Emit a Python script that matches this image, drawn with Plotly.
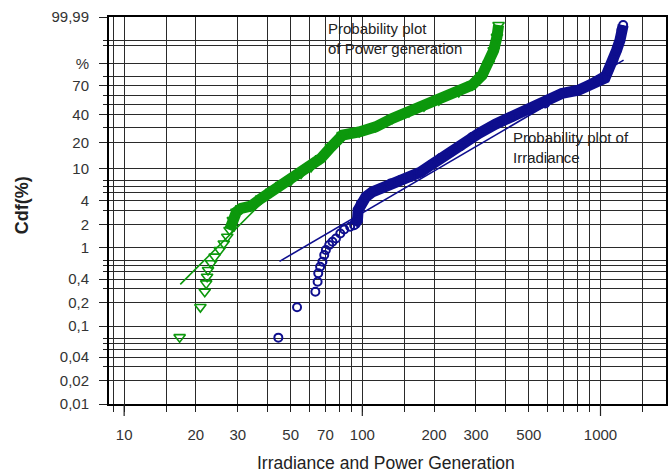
import numpy as np
import plotly.graph_objects as go

# ---------------- data ----------------
power_x = [17.1, 20.9, 21.8, 22.1, 22.3, 22.5, 23.2, 24.0, 25.2, 26.2,
           27.1, 27.7, 28.6, 29.6, 31.0, 34.0, 37.6, 41.4, 45.6, 50.2,
           55.3, 60.9, 67.0, 73.8, 82.6, 97.0, 113.8, 133.6, 157.0, 181.5,
           209.6, 254.1, 288.9, 318.3, 339.6, 356.0, 367.5, 373.3]
power_cdf = [0.072, 0.175, 0.275, 0.352, 0.428, 0.522, 0.637, 0.773, 0.942, 1.14,
             1.39, 1.69, 2.26, 2.87, 3.18, 3.39, 4.24, 5.13, 6.23, 7.18,
             8.68, 10.4, 13.2, 17.9, 24.5, 26.6, 30.2, 36.9, 42.8, 48.4,
             54.6, 63.5, 70.8, 80.8, 90.3, 96.8, 99.40, 99.93]

irr_x = [44.4, 53.2, 63.5, 64.9, 65.3, 66.5, 68.0, 69.2, 70.3, 72.6,
         74.9, 77.5, 80.8, 83.9, 88.9, 92.4, 95.4, 96.0, 98.6, 103.5,
         110.3, 119.5, 131.5, 144.8, 159.5, 175.6, 193.5, 213.0, 234.6, 258.3,
         289.0, 308.3, 362.0, 425.0, 499.0, 586.0, 688.0, 807.0, 979.0, 1044.0,
         1079.0, 1132.0, 1168.0, 1207.0, 1225.0, 1245.0]
irr_cdf = [0.071, 0.174, 0.275, 0.370, 0.474, 0.575, 0.667, 0.813, 0.942, 1.09,
           1.20, 1.32, 1.53, 1.72, 1.86, 1.95, 2.26, 3.02, 3.67, 4.45,
           5.13, 5.66, 6.53, 7.18, 7.87, 8.99, 10.9, 13.3, 15.6, 18.4,
           23.3, 25.6, 32.2, 38.2, 44.4, 51.1, 61.8, 65.4, 76.0, 78.0,
           85.3, 92.3, 96.8, 99.03, 99.81, 99.93]

# Weibull fit lines (shape, scale, x-range)
power_fit = dict(shape=3.06, scale=110.0, xr=[17.2, 45.0])
irr_fit = dict(shape=1.787, scale=736.0, xr=[44.9, 1250.0])

# axis ticks
y_major_pct = [0.01, 0.02, 0.04, 0.1, 0.2, 0.4, 1, 2, 4, 10, 20, 40, 70, 90, 99.99]
y_major_text = ["0,01", "0,02", "0,04", "0,1", "0,2", "0,4", "1", "2", "4",
                "10", "20", "40", "70", "%", "99,99"]
y_minor_pct = [0.03, 0.05, 0.06, 0.07, 0.3, 0.5, 0.6, 0.7, 3, 5, 6, 7,
               30, 50, 60, 80, 98, 99]
x_major = [10, 20, 30, 50, 70, 100, 200, 300, 500, 1000]
x_minor = [9, 15, 40, 60, 80, 90, 150, 400, 600, 700, 800, 900, 1500]
x_long = [10, 100, 1000]

GREEN = "#0c980c"
BLUE = "#0e0e8e"
GRID = "#2a2a2a"
TXT = "#333333"
FONT = "Liberation Sans, Arial, sans-serif"


def wb(pct):
    p = np.asarray(pct, dtype=float) / 100.0
    return np.log10(-np.log(1.0 - p))


def fit_line(f):
    xs = np.array(f["xr"], dtype=float)
    ys = f["shape"] * (np.log10(xs) - np.log10(f["scale"]))
    return xs, ys


X_RANGE = [0.9364, 3.275]
Y_RANGE = [float(wb(0.01)), float(wb(99.99))]

fig = go.Figure()

# fit lines
for f, col in [(power_fit, GREEN), (irr_fit, BLUE)]:
    fx, fy = fit_line(f)
    fig.add_trace(go.Scatter(x=fx, y=fy, mode="lines",
                             line=dict(color=col, width=1.6),
                             hoverinfo="skip", showlegend=False))

# dense bands (heavily overlapping markers)
for xs, cs, start, col in [(power_x, power_cdf, 11, GREEN), (irr_x, irr_cdf, 15, BLUE)]:
    fig.add_trace(go.Scatter(x=xs[start:], y=wb(cs[start:]), mode="lines",
                             line=dict(color=col, width=11, shape="linear"),
                             hoverinfo="skip", showlegend=False))

fig.add_trace(go.Scatter(x=power_x, y=wb(power_cdf), mode="markers",
                         marker=dict(symbol="triangle-down-open", size=10,
                                     color=GREEN, line=dict(width=1.6, color=GREEN)),
                         name="Power generation", showlegend=False))
fig.add_trace(go.Scatter(x=irr_x, y=wb(irr_cdf), mode="markers",
                         marker=dict(symbol="circle-open", size=8,
                                     color=BLUE, line=dict(width=2, color=BLUE)),
                         name="Irradiance", showlegend=False))

# long tick marks at decades
shapes = []
for v in x_long:
    px = (np.log10(v) - X_RANGE[0]) / (X_RANGE[1] - X_RANGE[0])
    shapes.append(dict(type="line", xref="paper", yref="paper", x0=px, x1=px,
                       y0=0, y1=-12 / 387, line=dict(color="#222", width=1.2)))

fig.update_layout(
    width=671, height=475,
    margin=dict(l=109, r=3, t=17, b=71),
    paper_bgcolor="white", plot_bgcolor="white",
    showlegend=False,
    shapes=shapes,
    xaxis=dict(type="log", range=X_RANGE,
               tickmode="array", tickvals=x_major, ticktext=[str(v) for v in x_major],
               ticks="outside", ticklen=6, tickcolor="#222", tickwidth=1,
               showgrid=True, gridcolor=GRID, gridwidth=1,
               minor=dict(tickmode="array", tickvals=x_minor, ticks="outside",
                          ticklen=6, tickcolor="#222", showgrid=True,
                          gridcolor=GRID, gridwidth=1),
               showline=True, linecolor="black", linewidth=2, mirror=True,
               tickfont=dict(family=FONT, size=15, color=TXT),
               ticklabelstandoff=10, zeroline=False),
    yaxis=dict(range=Y_RANGE,
               tickmode="array", tickvals=list(wb(y_major_pct)), ticktext=y_major_text,
               ticks="outside", ticklen=8, tickcolor="#222", tickwidth=1,
               showgrid=True, gridcolor=GRID, gridwidth=1,
               minor=dict(tickmode="array", tickvals=list(wb(y_minor_pct)),
                          ticks="outside", ticklen=4, tickcolor="#222",
                          showgrid=True, gridcolor=GRID, gridwidth=1),
               showline=True, linecolor="black", linewidth=2, mirror=True,
               tickfont=dict(family=FONT, size=15, color=TXT),
               ticklabelstandoff=7, zeroline=False),
    annotations=[
        dict(text="Probability plot<br>of Power generation", xref="paper", yref="paper",
             x=(327 - 109) / 559, y=(404 - 18) / 387, xanchor="left", yanchor="top",
             align="left", showarrow=False,
             font=dict(family=FONT, size=15, color="#222")),
        dict(text="Probability plot of<br>Irradiance", xref="paper", yref="paper",
             x=(512 - 109) / 559, y=(404 - 127) / 387, xanchor="left", yanchor="top",
             align="left", showarrow=False,
             font=dict(family=FONT, size=15, color="#222")),
        dict(text="<b>Cdf(%)</b>", xref="paper", yref="paper",
             x=(22 - 109) / 559, y=(404 - 205) / 387, xanchor="center", yanchor="middle",
             textangle=-90, showarrow=False,
             font=dict(family=FONT, size=18, color="#222")),
        dict(text="Irradiance and Power Generation", xref="paper", yref="paper",
             x=(387 - 109) / 559, y=(404 - 463) / 387, xanchor="center", yanchor="middle",
             showarrow=False,
             font=dict(family=FONT, size=17.5, color="#222")),
    ],
)

fig.write_html("out.html")
